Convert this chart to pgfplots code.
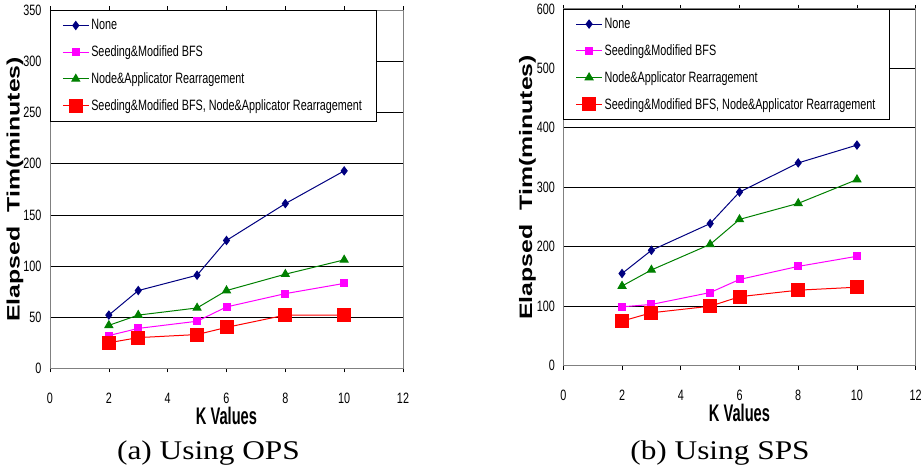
\documentclass[border=0pt]{standalone}
\usepackage{fontspec}
\usepackage{pgfplots}
\pgfplotsset{compat=1.18}
\setmainfont{Liberation Serif}
\newfontfamily\narrowfont[FakeStretch=0.72]{Liberation Sans}
\newfontfamily\xlabfont[FakeStretch=0.61]{Liberation Sans}
\newfontfamily\ylabfont[FakeStretch=1.38]{Liberation Sans}
\newfontfamily\capfont[FakeStretch=1.16]{Liberation Serif}
\definecolor{cnone}{RGB}{0,0,128}
\definecolor{cseed}{RGB}{255,0,255}
\definecolor{cnode}{RGB}{0,128,0}
\definecolor{cboth}{RGB}{255,0,0}
\pgfplotsset{
  myaxis/.style={
    scale only axis,
    xmin=0, xmax=12, ymin=0,
    xtick={0,2,...,12},
    tick align=outside,
    major tick length=4bp,
    ytick style={draw=none},
    xtick style={black, line width=0.6bp},
    ymajorgrids,
    major grid style={black, line width=0.7bp},
    x axis line style={black, line width=0.7bp},
    y axis line style={gray, line width=0.8bp},
    /pgf/number format/assume math mode=true,
    tick label style={font=\narrowfont\fontsize{15bp}{15bp}\selectfont},
    xticklabel style={anchor=center, yshift=-26bp},
    yticklabel style={xshift=-1bp},
    xlabel={K Values},
    ylabel={Elapsed\ \ Tim(minutes)},
    xlabel style={font=\xlabfont\bfseries\fontsize{24bp}{24bp}\selectfont, at={(axis description cs:0.5,0)}, anchor=center, yshift=-47.5bp},
    ylabel style={font=\ylabfont\bfseries\fontsize{18bp}{18bp}\selectfont, anchor=center},
    legend cell align=left,
    legend style={at={(0,1)}, anchor=north west, draw=black, line width=0.6bp,
      font=\narrowfont\fontsize{15bp}{15bp}\selectfont, row sep=10.5bp,
      inner xsep=12bp, inner ysep=7bp},
    legend image code/.code={\draw[mark repeat=2,mark phase=2,#1] plot coordinates {(0bp,0bp) (13bp,0bp) (26bp,0bp)};},
    every axis plot/.append style={line width=1bp},
  },
  snone/.style={color=cnone, mark=diamond*, mark size=4bp},
  sseed/.style={color=cseed, mark=square*, mark size=3.5bp},
  snode/.style={color=cnode, mark=triangle*, mark size=4.5bp},
  sboth/.style={color=cboth, mark=square*, mark size=6.5bp},
}
\begin{document}
\begin{tikzpicture}
\useasboundingbox (0bp,0bp) rectangle (923bp,476bp);
\begin{axis}[myaxis, at={(50bp,107.7bp)}, anchor=south west, width=353bp, height=358bp,
  ymax=350, ytick={0,50,...,350},
  ylabel style={at={(axis description cs:-0.099,0.5)}}]
\addplot[snone] coordinates {(2,52) (3,76) (5,91) (6,125) (8,161) (10,193)};
\addlegendentry{None}
\addplot[sseed] coordinates {(2,32) (3,39) (5,46) (6,60) (8,73) (10,83)};
\addlegendentry{Seeding\&Modified BFS}
\addplot[snode] coordinates {(2,42) (3,52) (5,59) (6,76) (8,92) (10,106)};
\addlegendentry{Node\&Applicator Rearragement}
\addplot[sboth] coordinates {(2,25) (3,30) (5,33) (6,40) (8,52) (10,52)};
\addlegendentry{Seeding\&Modified BFS, Node\&Applicator Rearragement}
\end{axis}
\begin{axis}[myaxis, at={(563.3bp,110.3bp)}, anchor=south west, width=352.4bp, height=356.8bp,
  ymax=600, ytick={0,100,...,600},
  ylabel style={at={(axis description cs:-0.102,0.5)}}]
\addplot[snone] coordinates {(2,155) (3,194) (5,239) (6,292) (8,341) (10,371)};
\addlegendentry{None}
\addplot[sseed] coordinates {(2,99) (3,103) (5,123) (6,145) (8,167) (10,184)};
\addlegendentry{Seeding\&Modified BFS}
\addplot[snode] coordinates {(2,134) (3,161) (5,204) (6,246) (8,273) (10,313)};
\addlegendentry{Node\&Applicator Rearragement}
\addplot[sboth] coordinates {(2,75) (3,89) (5,100) (6,116) (8,127) (10,132)};
\addlegendentry{Seeding\&Modified BFS, Node\&Applicator Rearragement}
\end{axis}
\node[font=\capfont\fontsize{27bp}{27bp}\selectfont, anchor=center] at (208.5bp,23bp) {(a) Using OPS};
\node[font=\capfont\fontsize{27bp}{27bp}\selectfont, anchor=center] at (720bp,23bp) {(b) Using SPS};
\end{tikzpicture}
\end{document}
